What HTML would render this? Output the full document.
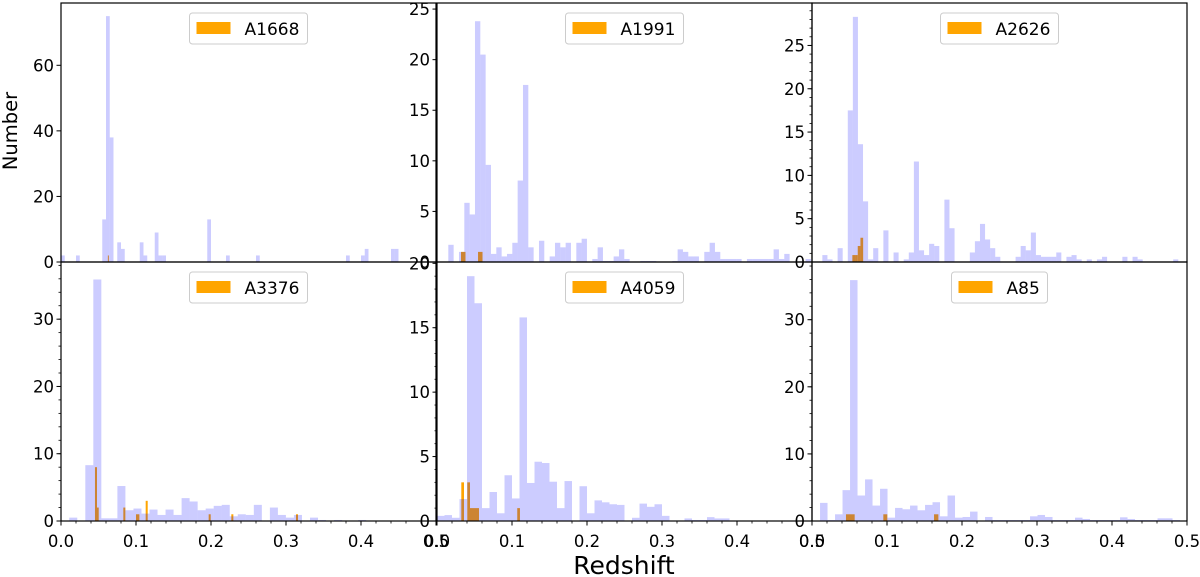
<!DOCTYPE html>
<html><head><meta charset="utf-8"><style>
html,body{margin:0;padding:0;background:#fff;}
svg{display:block;font-family:"DejaVu Sans","Liberation Sans",sans-serif;}
</style></head><body>
<svg id="chart" width="1200" height="577" viewBox="0 0 1200 577" xmlns="http://www.w3.org/2000/svg">
<text x="0" y="0" font-size="19.5" text-anchor="middle" transform="translate(17,131) rotate(-90)">Number</text>
<text x="624" y="574" font-size="25" text-anchor="middle">Redshift</text>
</svg>
<script>
// ---- data ----
const clusterNames = ["A1668","A1991","A2626","A3376","A4059","A85"];
const yMaxes = [79, 25.6, 29.9, 38.5, 20.1, 38.6];
const yTickSteps = [20, 5, 5, 10, 5, 10];
const yMinorSteps = [0, 0, 1, 2, 1, 2];
const binStarts = [0, 0.0151, 0.0138, 0.011, 0, 0.0107];
const binWidths = [0.005, 0.00711, 0.00678, 0.0107, 0.01, 0.01];
const countsA1668 = [2,0,0,0,2,0,0,0,0,0,0,13,75,38,0,6,4,0,0,0,0,6,2,0,0,9,2,2,0,0,0,0,0,0,0,0,0,0,0,13,0,0,0,0,2,0,0,0,0,0,0,0,2,0,0,0,0,0,0,0,0,0,0,0,0,0,0,0,0,0,0,0,0,0,0,0,2,0,0,0,2,4,0,0,0,0,0,0,4,4];
const countsA1991 = [1.7,0,1.0,5.85,4.7,23.8,20.5,9.6,0.8,1.45,0.55,0.8,1.9,8.05,17.5,1.45,0,2.1,0,0.55,1.9,1.45,1.9,0,1.9,2.3,0,0.3,1.45,0.1,0.1,0.55,1.25,0.3,0,0,0.1,0.1,0.1,0,0,0,0.1,1.25,1.0,0.55,0.55,0,1.0,1.9,1.0,0.3,0.3,0.3,0.3,0,0.3,0.3,0.3,0.3,0.3,1.25,0.3,0.8,0,0,0,0.3];
const countsA2626 = [0.8,0.3,0,1.6,0,17.5,28.3,13.6,7.0,0.3,1.6,0,3.65,0,1.1,0,0.3,1.1,11.6,1.35,0.8,2.1,1.85,0,7.2,3.9,0,0,0.05,1.1,2.4,4.4,2.6,1.6,0.6,0,0,0,0.6,1.85,1.35,3.4,0.8,0.6,0.6,0.6,1.1,0,0.6,0.8,0.3,0,0.3,0,0.3,0.6,0.05,0,0,0.6,0,0.6,0.3,0,0,0,0.05,0.05,0,0.3];
const countsA3376 = [0.5,0,8.3,35.9,0.4,0.4,5.2,1.6,1.85,1.1,1.7,0.9,1.7,0.9,3.4,2.9,1.6,1.85,2.25,2.4,0.7,1.0,0.9,2.4,0,2.0,0.9,0.5,0.9,0,0.5,0.15,0,0.15,0,0,0.15];
const countsA4059 = [0.4,0.46,0.25,1.7,19.0,16.9,1.0,2.25,0.6,3.55,1.75,15.8,2.95,4.6,4.5,3.05,1.0,3.1,0,2.7,0.6,1.6,1.45,1.3,1.25,0,0.25,1.35,1.1,1.3,0.4,0,0,0.2,0.08,0.08,0.3,0.2,0.2];
const countsA85 = [2.7,0.15,1.0,4.6,35.9,3.8,6.2,2.3,4.8,0.5,1.95,1.75,2.3,1.6,2.4,2.8,0.7,3.8,0.5,0.6,1.4,0,0.6,0.15,0.15,0.15,0.15,0.15,0.7,0.9,0.6,0.15,0.15,0.15,0.5,0.3,0.15,0.15,0.15,0.15,0.55,0.3,0.15,0.15,0.15,0.4,0.4,0.15];
// member (orange) bins: left edge redshift, width, count
const memberZ = [[0.0625],[0.032,0.0547],[0.0538,0.0574,0.061,0.0646],[0.0453,0.0476,0.0831,0.1,0.1129,0.1969,0.2271,0.3133],[0.0324,0.0404,0.044,0.107],[0.0453,0.0951,0.1627]];
const memberW = [[0.0013],[0.006,0.006],[0.0036,0.0036,0.0036,0.0036],[0.0027,0.0027,0.0027,0.0045,0.0027,0.0027,0.0027,0.0027],[0.0036,0.0036,0.012,0.0036],[0.0116,0.0053,0.0058]];
const memberN = [[2],[1,1],[0.8,0.8,1.85,2.8],[8,2,2,1,3,1,1,1],[3,3,1,1],[1,1,1]];
const xTicks = [0,0.1,0.2,0.3,0.4,0.5];
const xTickLabels = ["0.0","0.1","0.2","0.3","0.4","0.5"];
const allCounts = [countsA1668,countsA1991,countsA2626,countsA3376,countsA4059,countsA85];

// ---- layout ----
const NS="http://www.w3.org/2000/svg";
const svg=document.getElementById('chart');
const colX=[61,437,812], rowY=[3,262], PW=375, PH=259, XMAX=0.5;
function mk(tag,attrs,parent){const e=document.createElementNS(NS,tag);for(const k in attrs)e.setAttribute(k,attrs[k]);(parent||svg).appendChild(e);return e;}

clusterNames.forEach((name,i)=>{
  const x0=colX[i%3], y0=rowY[Math.floor(i/3)], yb=y0+PH;
  const xs=z=>x0+z/XMAX*PW;
  const ys=v=>yb-v/yMaxes[i]*PH;
  const g=mk('g',{});
  
  
  memberZ[i].forEach((z,j)=>{
    const r=mk('rect',{x:xs(z),y:ys(memberN[i][j]),width:xs(z+memberW[i][j])-xs(z),height:yb-ys(memberN[i][j]),fill:'#ffa500'},g);
    
    
  });
  allCounts[i].forEach((c,j)=>{
    if(c<=0)return;
    const z=binStarts[i]+j*binWidths[i];
    const r=mk('rect',{x:xs(z),y:ys(c),width:xs(z+binWidths[i])-xs(z),height:yb-ys(c),fill:'#0000ff','fill-opacity':0.2},g);
    
    
  });
  const fr=mk('rect',{x:x0,y:y0,width:PW,height:PH,fill:'none',stroke:'#000','stroke-width':1.2},g);
  
  
  if(yMinorSteps[i]>0){
    for(let v=0;v<=yMaxes[i];v+=yMinorSteps[i]){
      mk('line',{x1:x0-2.5,x2:x0,y1:ys(v),y2:ys(v),stroke:'#000','stroke-width':0.8},g);
    }
  }
  for(let v=0;v<=yMaxes[i];v+=yTickSteps[i]){
    mk('line',{x1:x0-4.5,x2:x0,y1:ys(v),y2:ys(v),stroke:'#000','stroke-width':1},g);
    const t=mk('text',{x:x0-7,y:ys(v)+6,'font-size':16.5,'text-anchor':'end'},g);
    t.textContent=v;
    
    
  }
  if(i>=3){
    for(let k=0;k<=25;k++){
      const z=k*0.02;
      mk('line',{x1:xs(z),x2:xs(z),y1:yb,y2:yb+(k%5===0?4.5:2.5),stroke:'#000','stroke-width':k%5===0?1:0.8},g);
    }
    xTicks.forEach((z,k)=>{
      const t=mk('text',{x:xs(z),y:yb+26,'font-size':16.5,'text-anchor':'middle'},g);
      t.textContent=xTickLabels[k];
      
      
    });
  }
  const lw = name.length>3?118:96;
  const lx = x0+PW/2-lw/2, ly=y0+10;
  const lg=mk('g',{},g);
  
  
  mk('rect',{x:lx,y:ly,width:lw,height:31,rx:3,fill:'#fff','fill-opacity':0.8,stroke:'#ccc','stroke-width':1},lg);
  const sw=mk('rect',{x:lx+7,y:ly+9,width:34,height:12,fill:'#ffa500'},lg);
  
  
  const lt=mk('text',{x:lx+55,y:ly+22,'font-size':17},lg);
  lt.textContent=name;
  
  
});
</script>
</body></html>
